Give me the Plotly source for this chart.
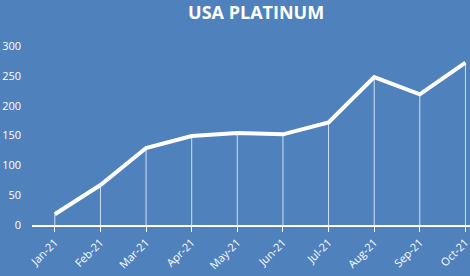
import plotly.graph_objects as go

months = ["Jan-21", "Feb-21", "Mar-21", "Apr-21", "May-21", "Jun-21", "Jul-21", "Aug-21", "Sep-21", "Oct-21"]
values = [18, 67, 129, 149, 154, 152, 172, 248, 219, 272]
y_ticks = [0, 50, 100, 150, 200, 250, 300]

bg = "#4F81BD"

fig = go.Figure()
fig.add_trace(go.Scatter(
    x=list(range(len(months))), y=values, mode="lines",
    line=dict(color="white", width=4),
    error_y=dict(type="data", symmetric=False, array=[0] * len(values), arrayminus=values,
                 color="rgba(255,255,255,0.75)", thickness=1, width=0),
    hoverinfo="skip",
))

fig.update_layout(
    width=470, height=276,
    paper_bgcolor=bg, plot_bgcolor=bg,
    margin=dict(l=32, r=0, t=46, b=51),
    showlegend=False,
    title=dict(text="<b>USA PLATINUM</b>", x=0.545, xanchor="center", y=0.955, yanchor="middle",
               font=dict(family="Open Sans", size=18, color="white")),
    font=dict(family="Open Sans", color="white", size=11),
)
fig.update_xaxes(
    range=[-0.5, 9.1], tickmode="array", tickvals=list(range(len(months))), ticktext=months,
    tickangle=-45, showgrid=False, zeroline=False,
    showline=True, linecolor="white", linewidth=1.5,
    ticks="outside", tickcolor="white", ticklen=5, tickson="boundaries",
    tickfont=dict(size=11, color="white"), ticklabeloverflow="allow",
)
fig.update_yaxes(
    range=[0, 300], tickvals=y_ticks, showgrid=False, zeroline=False, showline=False,
    tickfont=dict(size=11, color="white"), ticklabelstandoff=10,
)

fig.write_html("out.html")
